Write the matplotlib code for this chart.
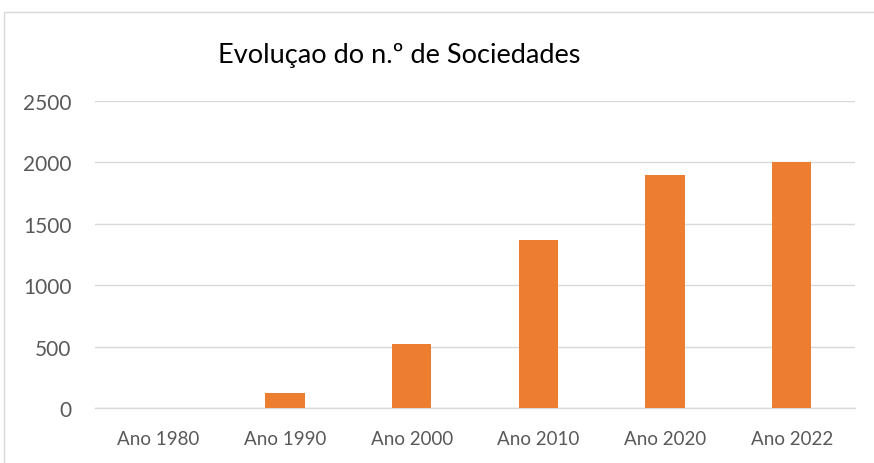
import matplotlib
matplotlib.use("Agg")
import matplotlib.pyplot as plt
from matplotlib.patches import Rectangle

plt.rcParams['font.family'] = ['Lato', 'DejaVu Sans']

categories = ['Ano 1980', 'Ano 1990', 'Ano 2000', 'Ano 2010', 'Ano 2020', 'Ano 2022']
values = [0, 122, 522, 1366, 1900, 2004]
yticks = [0, 500, 1000, 1500, 2000, 2500]

fig = plt.figure(figsize=(8.74, 4.64), dpi=100)
ax = fig.add_axes([95 / 874, 1 - 409 / 464, 760 / 874, 307 / 464])

x = range(len(categories))
ax.bar(x, values, width=0.313, color='#ED7D31', zorder=3)

ax.set_xlim(-0.5, len(categories) - 0.5)
ax.set_ylim(0, 2500)
ax.set_yticks(yticks)
ax.set_xticks(list(x))
ax.set_xticklabels(categories)
ax.grid(axis='y', color='#D9D9D9', linewidth=1, zorder=0)
for s in ['top', 'right', 'left']:
    ax.spines[s].set_visible(False)
ax.spines['bottom'].set_color('#D9D9D9')
ax.spines['bottom'].set_linewidth(1)
ax.tick_params(axis='both', length=0, labelcolor='#595959')
ax.tick_params(axis='y', pad=17, labelsize=15)
ax.tick_params(axis='x', pad=16, labelsize=13.5)

fig.text(399 / 874, 1 - 55 / 464, 'Evoluçao do n.º de Sociedades',
         ha='center', va='center', fontsize=19.5, color='#000000')

# chart border
fig.patches.append(Rectangle((4 / 874, -0.05), 1.0, 1 - 13 / 464 + 0.05,
                             transform=fig.transFigure, fill=False,
                             edgecolor='#D9D9D9', linewidth=1))

fig.savefig('out.png', dpi=100)
